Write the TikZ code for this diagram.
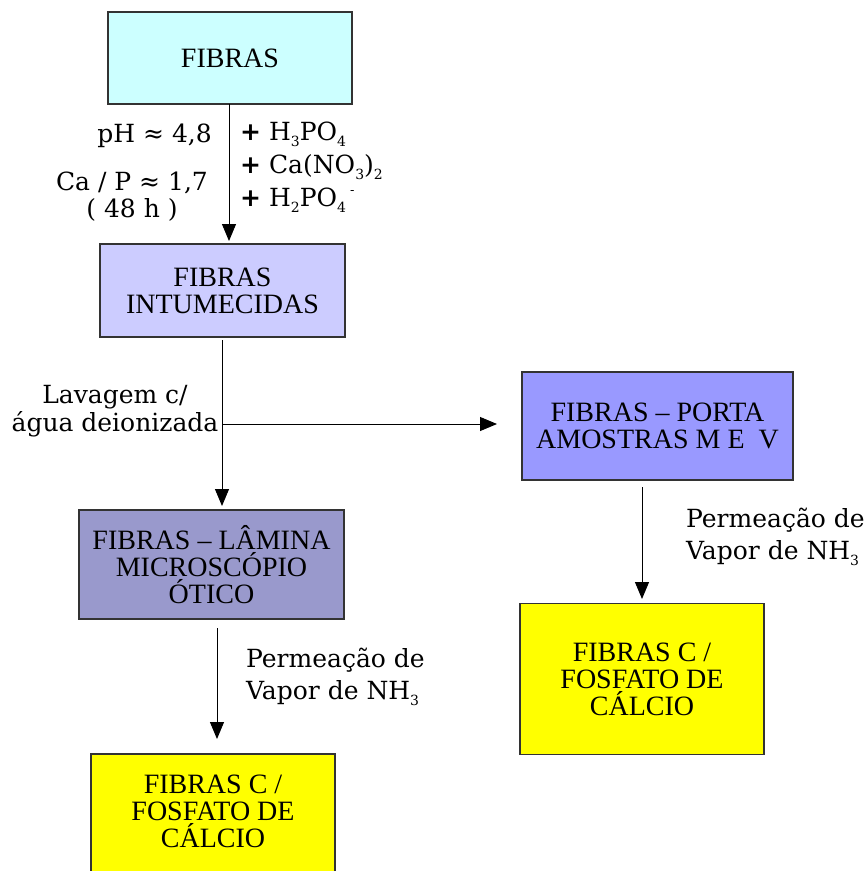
\documentclass[tikz,border=0pt]{standalone}
\usepackage{fontspec}
\setmainfont{Liberation Serif}
\newfontfamily\lblfont{DejaVu Serif}
\newfontfamily\plusfont{DejaVu Sans}
\usetikzlibrary{arrows.meta}
\definecolor{cyanbox}{HTML}{CCFFFF}
\definecolor{lilacbox}{HTML}{CCCCFF}
\definecolor{bluebox}{HTML}{9999FF}
\definecolor{slatebox}{HTML}{9999CC}
\definecolor{yellowbox}{HTML}{FFFF00}
\definecolor{edge}{HTML}{333333}
% small lowered index and raised charge for chemical formulae
\newcommand{\idx}[1]{\raisebox{-0.45ex}{\fontsize{14}{14}\selectfont #1}}
\newcommand{\chg}[1]{\raisebox{0.9ex}{\fontsize{13}{13}\selectfont #1}}
\newcommand{\pls}{{\plusfont\bfseries +}}
\begin{document}
\begin{tikzpicture}[x=1pt,y=-1pt,
  stepbox/.style={draw=edge,line width=1.3pt,align=center,inner sep=0pt,
    font=\fontsize{28}{27}\selectfont},
  flow/.style={draw=black,line width=1pt,-{Triangle[length=17pt,width=14pt]}},
  lbl/.style={font=\lblfont\fontsize{25}{27}\selectfont,inner sep=0pt}]
\useasboundingbox[fill=white] (0,0) rectangle (864,871);
% boxes
\node[stepbox,fill=cyanbox,minimum width=244pt,minimum height=92pt] (fib) at (230,58) {FIBRAS};
\node[stepbox,fill=lilacbox,minimum width=245pt,minimum height=93pt] (intu) at (222.5,290.5) {FIBRAS\\INTUMECIDAS};
\node[stepbox,fill=bluebox,minimum width=271pt,minimum height=108pt] (porta) at (657.5,426) {FIBRAS -- PORTA\\AMOSTRAS M E\ \ V};
\node[stepbox,fill=slatebox,minimum width=265pt,minimum height=109pt] (lam) at (211.5,564.5) {FIBRAS -- LÂMINA\\MICROSCÓPIO\\ÓTICO};
\node[stepbox,fill=yellowbox,minimum width=244pt,minimum height=151pt] (fosR) at (642,679) {FIBRAS C /\\FOSFATO DE\\CÁLCIO};
\node[stepbox,fill=yellowbox,minimum width=244pt,minimum height=151pt] (fosL) at (213,829.5) {};
\node[font=\fontsize{28}{27}\selectfont,align=center,inner sep=0pt] (fosLt) at (213,811) {FIBRAS C /\\FOSFATO DE\\CÁLCIO};
% connector anchors
\coordinate (a1) at (229,104);
\coordinate (a2) at (229,241);
\coordinate (b1) at (222,340);
\coordinate (b2) at (222,506);
\coordinate (h1) at (222,424);
\coordinate (h2) at (497,424);
\coordinate (c1) at (642,487);
\coordinate (c2) at (642,599);
\coordinate (d1) at (217,628);
\coordinate (d2) at (217,739);
\draw[flow] (a1) -- (a2);
\draw[flow] (b1) -- (b2);
\draw[flow] (h1) -- (h2);
\draw[flow] (c1) -- (c2);
\draw[flow] (d1) -- (d2);
% labels
\node[lbl,anchor=east] (ph) at (212,136) {pH ≈ 4,8};
\node[lbl,align=center] (cap) at (132,197) {Ca / P ≈ 1,7\\( 48 h )};
\node[lbl,anchor=west,align=left,font=\lblfont\fontsize{25}{33}\selectfont] (reag) at (240,167)
  {\pls{} H\idx{3}PO\idx{4}\\\pls{} Ca(NO\idx{3})\idx{2}\\\pls{} H\idx{2}PO\idx{4}\,\chg{-}};
\node[lbl,align=center,font=\lblfont\fontsize{25}{28}\selectfont] (lav) at (115,411) {Lavagem c/\\água deionizada};
\node[lbl,anchor=west,align=left,font=\lblfont\fontsize{25}{32}\selectfont] (permL) at (246,677) {Permeação de\\Vapor de NH\idx{3}};
\node[lbl,anchor=west,align=left,font=\lblfont\fontsize{25}{32}\selectfont] (permR) at (686,537) {Permeação de\\Vapor de NH\idx{3}};
\end{tikzpicture}
\end{document}
